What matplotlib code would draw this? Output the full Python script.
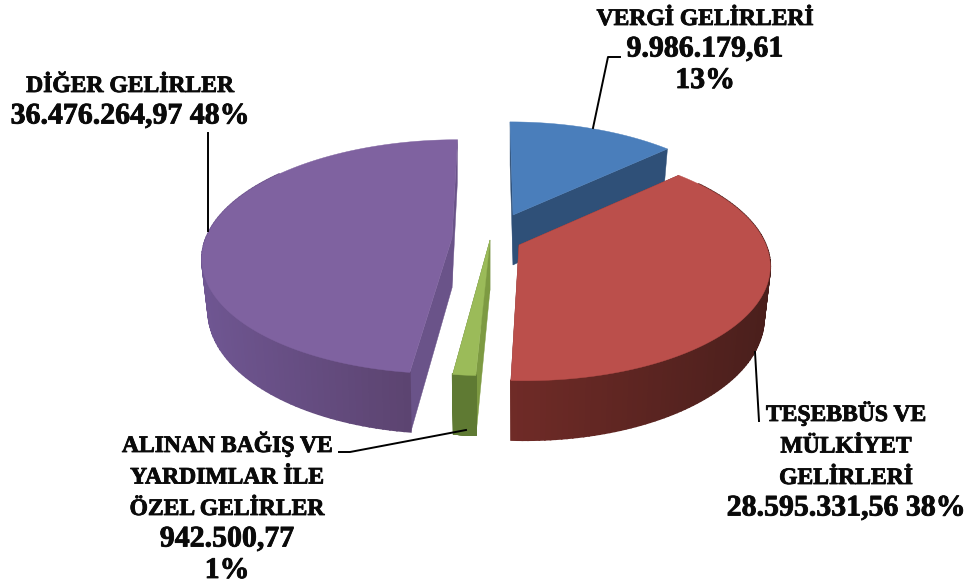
import matplotlib
matplotlib.use('Agg')
import matplotlib.pyplot as plt
import matplotlib.patheffects as pe
import numpy as np
from matplotlib.colors import to_rgb

# order as in the source chart, clockwise from 12 o'clock
values = [9986179.61, 28595331.56, 942500.77, 36476264.97]
labels = ['VERGİ GELİRLERİ\n9.986.179,61\n13%',
          'TEŞEBBÜS VE\nMÜLKİYET\nGELİRLERİ\n28.595.331,56 38%',
          'ALINAN BAĞIŞ VE\nYARDIMLAR İLE\nÖZEL GELİRLER\n942.500,77\n1%',
          'DİĞER GELİRLER\n36.476.264,97 48%']

top_colors = ['#4a7ebb', '#bb4f4b', '#9bbb59', '#7f62a0']
start_face = ['#2f5078', '#7a2f2c', '#7d9a42', '#6a5389']
end_face = ['#2f5078', '#7a2f2c', '#5f7a33', '#6a5389']
wall_left = ['#2f5078', '#702b27', '#5f7a33', '#6f5692']
wall_right = ['#2b4a70', '#4a1f1c', '#5f7a33', '#584069']

# apex of each exploded slice and its radii, in pixels
apex_x = [513, 519, 490, 452]
apex_y = [215, 245, 240, 238]
rad_a = [236, 247, 250, 246]
rad_b = [108, 114, 114, 114]
shear = [-3, -6, 0, 5.5]
persp = 0.16
depth = 50
bottom_shrink = 0.975
label_x = [705, 846, 227, 130]
label_base = [25, 421, 452, 92]
line_gap = 31.5

font = 'Liberation Serif'
fig = plt.figure(figsize=(9.71, 5.88), dpi=100)
ax = fig.add_axes([0, 0, 1, 1])
ax.set_xlim(0, 971)
ax.set_ylim(588, 0)
ax.axis('off')

shares = np.array(values) / sum(values)
edges = np.concatenate([[0], np.cumsum(shares)]) * 2 * np.pi


def rim(i, theta, bottom=False):
    s = 1 / (1 + persp * np.cos(theta))
    dx = rad_a[i] * np.sin(theta) * s + shear[i] * np.cos(theta)
    y = apex_y[i] - rad_b[i] * np.cos(theta) * s
    if bottom:
        return apex_x[i] + dx * bottom_shrink, y + depth * s
    return apex_x[i] + dx, y


def draw_slice(i, z):
    t = np.linspace(edges[i], edges[i + 1], 121)
    ax_, ay = apex_x[i], apex_y[i]
    # radial faces
    for th, col in [(edges[i + 1], end_face[i]), (edges[i], start_face[i])]:
        x1, y1 = rim(i, th)
        x2, y2 = rim(i, th, True)
        ax.fill([ax_, x1, x2, ax_], [ay, y1, y2, ay + depth], color=col, lw=0.3, zorder=z)
    xt, yt = rim(i, t)
    xb, yb = rim(i, t, True)
    # outer wall, shaded in small steps; back part stays hidden
    c0, c1 = np.array(to_rgb(wall_left[i])), np.array(to_rgb(wall_right[i]))
    xmin, xmax = xt.min(), xt.max()
    for k in range(len(t) - 1):
        if np.cos(t[k]) > 0.6:
            continue
        f = (xt[k] - xmin) / (xmax - xmin)
        ax.fill([xt[k], xt[k + 1], xb[k + 1], xb[k]], [yt[k], yt[k + 1], yb[k + 1], yb[k]],
                color=c0 + (c1 - c0) * f, lw=1.2, zorder=z)
    # top face
    ax.fill(np.r_[ax_, xt], np.r_[ay, yt], color=top_colors[i], lw=0.3, zorder=z + 0.5)


for z, i in enumerate([3, 2, 0, 1]):
    draw_slice(i, z + 1)

# leader lines
ax.plot([593, 608, 620], [128, 57, 57], c='k', lw=1.4, zorder=9)
ax.plot([755, 759], [352, 421], c='k', lw=1.4, zorder=9)
ax.plot([466, 350, 339], [430, 452, 452], c='k', lw=1.4, zorder=9)
ax.plot([208, 208], [231, 133], c='k', lw=1.4, zorder=9)

heavy = [pe.withStroke(linewidth=0.6, foreground='#0a0a0a')]
for i in range(4):
    for n, line in enumerate(labels[i].split('\n')):
        # digits run wider than capitals in the original face
        size = 21.5 if line[0].isdigit() else 17
        ax.text(label_x[i], label_base[i] + n * line_gap, line, ha='center', va='baseline',
                family=font, fontweight='bold', fontsize=size, color='#0a0a0a', zorder=10,
                path_effects=heavy)

fig.savefig('out.png', dpi=100)
